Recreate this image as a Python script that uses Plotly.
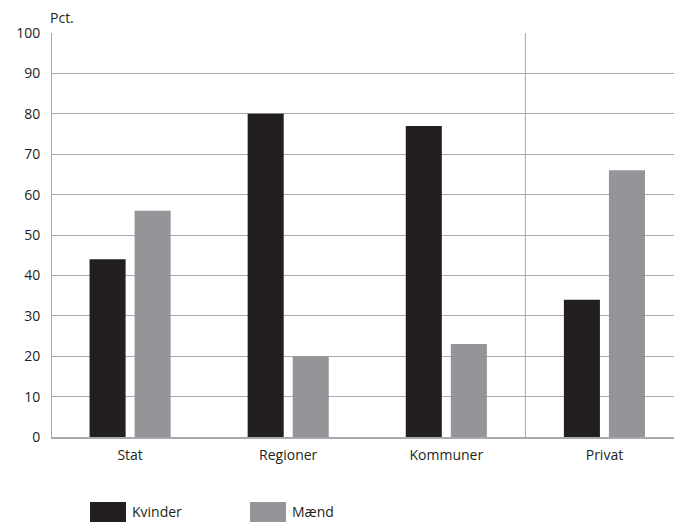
import plotly.graph_objects as go

categories = ["Stat", "Regioner", "Kommuner", "Privat"]
kvinder = [44, 80, 77, 34]
maend = [56, 20, 23, 66]
series_names = ["Kvinder", "Mænd"]
y_ticks = [0, 10, 20, 30, 40, 50, 60, 70, 80, 90, 100]

BLACK = "#231f20"
GREY = "#939598"
GRID = "#a7a9ac"
FONT = "Open Sans"

fig = go.Figure()
fig.add_trace(go.Bar(x=categories, y=kvinder, name=series_names[0], marker=dict(color=BLACK, line=dict(width=0)), showlegend=False))
fig.add_trace(go.Bar(x=categories, y=maend, name=series_names[1], marker=dict(color=GREY, line=dict(width=0)), showlegend=False))

W, H = 674, 522
L, R, T, B = 52, 0, 33, 85
pw, ph = W - L - R, H - T - B

def px_x(px):
    return (px - L) / pw

def px_y(py):
    return (H - B - py) / ph

shapes = [
    dict(type="line", xref="x", yref="y", x0=2.5, x1=2.5, y0=0, y1=100,
         line=dict(color=GRID, width=1), layer="below"),
]
annotations = [
    dict(text="Pct.", xref="paper", yref="paper", x=px_x(48), y=px_y(18), xanchor="left", yanchor="middle",
         showarrow=False, font=dict(family=FONT, size=14, color="#231f20")),
]
legend_colors = [BLACK, GREY]
legend_x = [90, 250]
for name, col, lx in zip(series_names, legend_colors, legend_x):
    shapes.append(dict(type="rect", xref="paper", yref="paper", x0=px_x(lx), x1=px_x(lx + 36),
                       y0=px_y(522), y1=px_y(502), fillcolor=col, line=dict(width=0)))
    annotations.append(dict(text=name, xref="paper", yref="paper", x=px_x(lx + 40), y=px_y(511),
                            xanchor="left", yanchor="middle", showarrow=False,
                            font=dict(family=FONT, size=14, color="#231f20")))

fig.update_layout(
    width=W, height=H,
    margin=dict(l=L, r=R, t=T, b=B, pad=0),
    paper_bgcolor="white", plot_bgcolor="white",
    barmode="group", bargap=0.43, bargroupgap=0.2,
    font=dict(family=FONT, size=14, color="#231f20"),
    shapes=shapes, annotations=annotations,
    showlegend=False,
    xaxis=dict(range=[-0.494, 3.44], showgrid=False, showline=True, linecolor=GRID, linewidth=2,
               ticks="", ticklabelstandoff=4, tickfont=dict(family=FONT, size=14)),
    yaxis=dict(range=[0, 100], tickvals=y_ticks, showgrid=True, gridcolor=GRID, gridwidth=1,
               showline=True, linecolor=GRID, linewidth=1, ticks="", ticklabelstandoff=8,
               zeroline=False, tickfont=dict(family=FONT, size=14)),
)

fig.write_html("out.html")
